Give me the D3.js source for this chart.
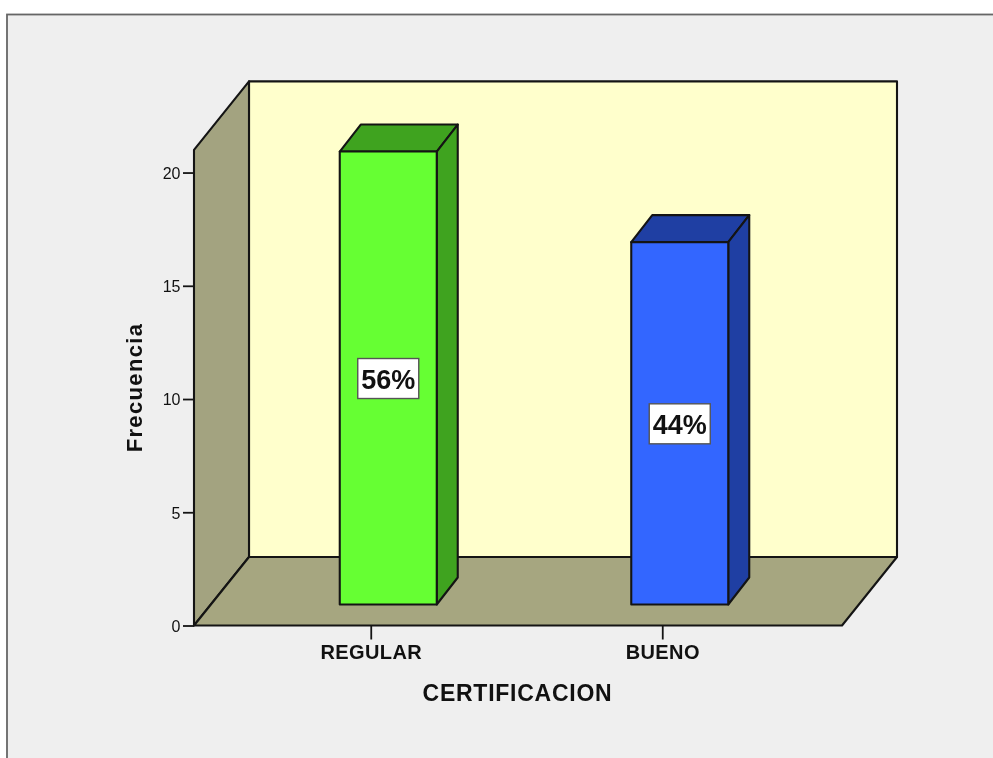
<!DOCTYPE html>
<html><head><meta charset="utf-8">
<script src="https://cdn.jsdelivr.net/npm/d3@7"></script>
<style>html,body{margin:0;padding:0;background:#fff;overflow:hidden}svg{display:block;filter:blur(0.45px)}text{font-family:"Liberation Sans",Arial,sans-serif;fill:#111}</style>
</head><body><svg id="c" width="993" height="758"></svg>
<script>
const categories = ["REGULAR","BUENO"];
const frecuencia = [20,16];
const etiquetas = ["56%","44%"];
const colorFrente = ["#66ff33","#3366ff"];
const colorLado = ["#3fa31f","#1f3fa3"];
const yTicks = [0,5,10,15,20];
const xTitle = "CERTIFICACION", yTitle = "Frecuencia";

const svg = d3.select("#c");
const y = d3.scaleLinear().domain([0,21]).range([625.5,149.9]);
const x = d3.scaleBand().domain(categories).range([225.5,808.5]).paddingInner(0.0);
const plot = {l:194,r:842,dx:55,dy:68.5};
const bar = {w:97,ox:17,oy:21,dx:21,dy:27};
const line = d3.line();
const stroke = "#141414";

// frame
svg.append("rect").attr("x",7).attr("y",14.5).attr("width",1000).attr("height",760)
  .attr("fill","#efefef").attr("stroke","#666").attr("stroke-width",1.8);

const y0=y(0), yT=y(21);
const poly=(pts,fill,sw=2.1)=>svg.append("path").attr("d",line(pts)+"Z").attr("fill",fill)
  .attr("stroke",stroke).attr("stroke-width",sw).attr("stroke-linejoin","round");
// back wall
poly([[plot.l+plot.dx,yT-plot.dy],[plot.r+plot.dx,yT-plot.dy],[plot.r+plot.dx,y0-plot.dy],[plot.l+plot.dx,y0-plot.dy]],"#ffffcc");
// left wall
poly([[plot.l,yT],[plot.l+plot.dx,yT-plot.dy],[plot.l+plot.dx,y0-plot.dy],[plot.l,y0]],"#a3a380");
// floor
poly([[plot.l,y0],[plot.l+plot.dx,y0-plot.dy],[plot.r+plot.dx,y0-plot.dy],[plot.r,y0]],"#a6a680");

// bars
categories.forEach((c,i)=>{
  const cx=x(c)+x.bandwidth()/2+bar.ox, L=cx-bar.w/2, R=cx+bar.w/2;
  const top=y(frecuencia[i])-bar.oy, bot=y(0)-bar.oy;
  poly([[L,top],[L+bar.dx,top-bar.dy],[R+bar.dx,top-bar.dy],[R,top]],colorLado[i]);
  poly([[R,top],[R+bar.dx,top-bar.dy],[R+bar.dx,bot-bar.dy],[R,bot]],colorLado[i]);
  poly([[L,top],[R,top],[R,bot],[L,bot]],colorFrente[i]);
  const my=(top+bot)/2;
  const boxW=61,boxH=40;
  svg.append("rect").attr("x",cx-boxW/2).attr("y",my-boxH/2+.5).attr("width",boxW).attr("height",boxH)
    .attr("fill","#fff").attr("stroke","#555").attr("stroke-width",1.4);
  svg.append("text").attr("x",cx).attr("y",my+11).attr("text-anchor","middle")
    .attr("font-size",27).attr("font-weight","bold").attr("fill","#000").text(etiquetas[i]);
});

// axes
const yAxis=svg.append("g").attr("transform",`translate(${plot.l},0)`)
  .call(d3.axisLeft(y).tickValues(yTicks).tickSize(11).tickPadding(2.5));
yAxis.select(".domain").remove();
yAxis.selectAll("line").attr("stroke",stroke).attr("stroke-width",1.8);
yAxis.selectAll("text").attr("font-size",16).attr("font-family","'Liberation Sans',Arial,sans-serif").attr("fill","#222").attr("dy","0.36em");
const xAxis=svg.append("g").attr("transform",`translate(0,${y0})`)
  .call(d3.axisBottom(x).tickSize(14).tickPadding(3));
xAxis.select(".domain").remove();
xAxis.selectAll("line").attr("stroke",stroke).attr("stroke-width",1.8);
xAxis.selectAll("text").attr("font-size",20).attr("font-weight","bold").attr("font-family","'Liberation Sans',Arial,sans-serif").attr("fill","#111").attr("letter-spacing",0.4).attr("dy","0.8em");

svg.append("text").attr("x",517.5).attr("y",701).attr("text-anchor","middle")
  .attr("font-size",23).attr("font-weight","bold").attr("letter-spacing",0.75).text(xTitle);
svg.append("text").attr("transform","translate(142,387.5) rotate(-90)").attr("text-anchor","middle")
  .attr("font-size",22).attr("font-weight","bold").attr("letter-spacing",1.35).text(yTitle);
</script></body></html>
